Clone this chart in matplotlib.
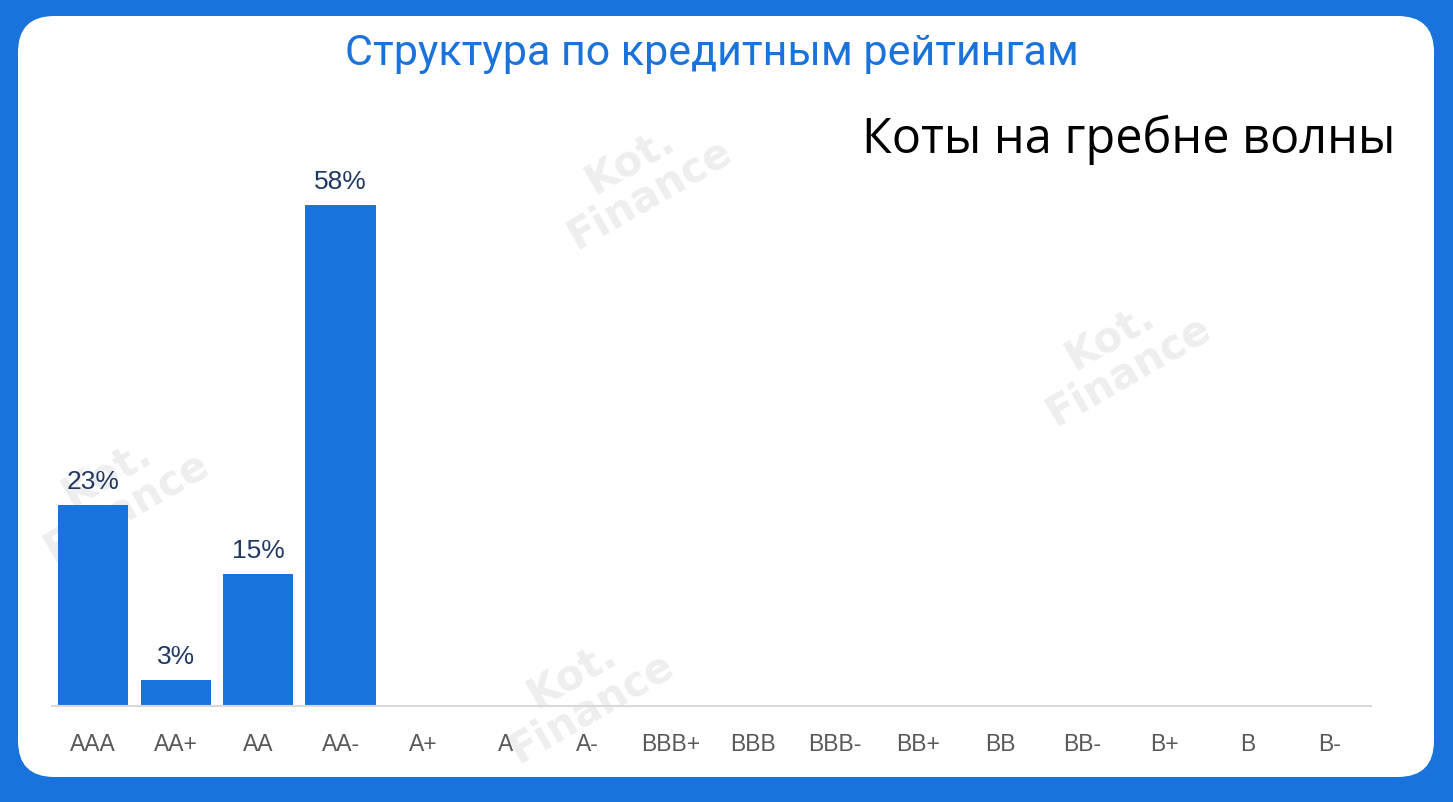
import matplotlib.pyplot as plt
from matplotlib.patches import FancyBboxPatch

ratings = ['AAA', 'AA+', 'AA', 'AA-', 'A+', 'A', 'A-', 'BBB+', 'BBB', 'BBB-',
           'BB+', 'BB', 'BB-', 'B+', 'B', 'B-']
shares = [23, 3, 15, 58, 0, 0, 0, 0, 0, 0, 0, 0, 0, 0, 0, 0]
heights = [23.3, 3.0, 15.3, 58.0, 0, 0, 0, 0, 0, 0, 0, 0, 0, 0, 0, 0]

blue = '#1a73db'

fig = plt.figure(figsize=(14.53, 8.03), dpi=100)
fig.patch.set_facecolor(blue)

# white rounded card
card = FancyBboxPatch((18 / 1453, 1 - 778 / 803), (1434 - 18) / 1453, (778 - 17) / 803,
                      boxstyle='round,pad=0,rounding_size=0.025',
                      transform=fig.transFigure, facecolor='white', edgecolor='none',
                      mutation_aspect=1453 / 803, zorder=-10)
fig.add_artist(card)

# faint watermarks
for (wx, wy) in [(0.44, 0.78), (0.77, 0.56), (0.08, 0.39), (0.40, 0.14)]:
    fig.text(wx, wy, 'Kot.\nFinance', fontsize=30, color='#eeeeee', rotation=30,
             ha='center', va='center', fontweight='bold', family='DejaVu Sans',
             linespacing=0.9, zorder=-5)

ax = fig.add_axes([52 / 1453, 1 - 707 / 803, (1371 - 52) / 1453, (707 - 100) / 803])
ax.set_facecolor('none')
x = range(len(ratings))
bars = ax.bar(x, heights, width=0.85, color=blue, zorder=2)
for i, (h, s) in enumerate(zip(heights, shares)):
    if s > 0:
        ax.text(i, h + 1.4, f'{s}%', ha='center', va='bottom', fontsize=19,
                color='#1f3864', family='Liberation Sans')

ax.set_xlim(-0.5, len(ratings) - 0.5)
ax.set_ylim(0, 70.25)
ax.set_xticks(list(x))
ax.set_xticklabels(ratings, fontsize=16.5, color='#595959', family='Liberation Sans')
ax.tick_params(axis='x', length=0, pad=19)
ax.set_yticks([])
for sp in ['top', 'right', 'left']:
    ax.spines[sp].set_visible(False)
ax.spines['bottom'].set_color('#d9d9d9')
ax.spines['bottom'].set_linewidth(1.5)

fig.text(712 / 1453, 1 - 54 / 803, 'Структура по кредитным рейтингам', fontsize=31,
         color=blue, ha='center', va='center', family='Roboto')
fig.text(1395 / 1453, 1 - 140 / 803, 'Коты на гребне волны', fontsize=35,
         color='black', ha='right', va='center', family='Open Sans')

fig.savefig('out.png', dpi=100, facecolor=fig.get_facecolor())
